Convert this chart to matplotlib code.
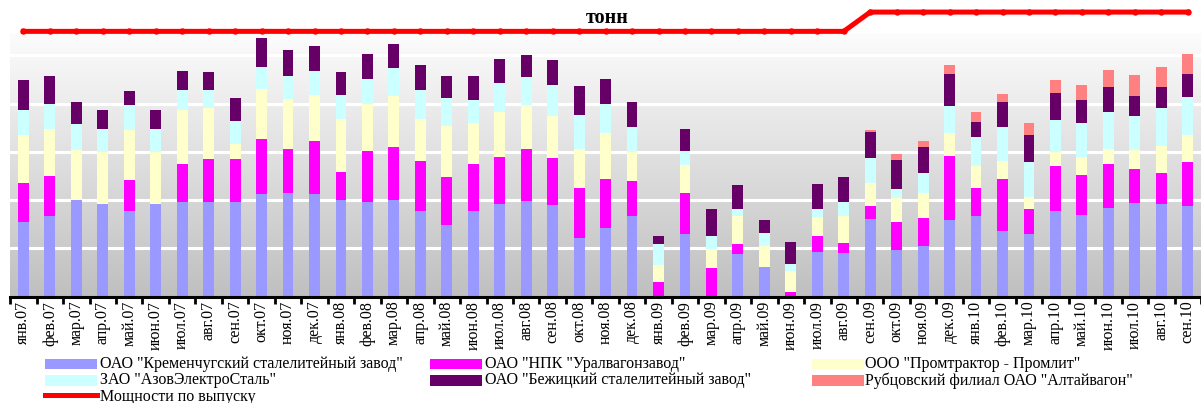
import numpy as np
import matplotlib
matplotlib.use("Agg")
import matplotlib.pyplot as plt
from matplotlib.patches import Rectangle
from matplotlib.lines import Line2D

months = ["янв.07", "фев.07", "мар.07", "апр.07", "май.07", "июн.07", "июл.07", "авг.07", "сен.07",
          "окт.07", "ноя.07", "дек.07", "янв.08", "фев.08", "мар.08", "апр.08", "май.08", "июн.08",
          "июл.08", "авг.08", "сен.08", "окт.08", "ноя.08", "дек.08", "янв.09", "фев.09", "мар.09",
          "апр.09", "май.09", "июн.09", "июл.09", "авг.09", "сен.09", "окт.09", "ноя.09", "дек.09",
          "янв.10", "фев.10", "мар.10", "апр.10", "май.10", "июн.10", "июл.10", "авг.10", "сен.10"]

kremenchug = [7.7, 8.3, 10.0, 9.55, 8.9, 9.55, 9.75, 9.75, 9.75, 10.6, 10.7, 10.6, 10.05, 9.75, 10.05,
              8.9, 7.4, 8.9, 9.55, 9.95, 9.45, 6.1, 7.15, 8.3, 0.0, 6.45, 0.0, 4.45, 3.1, 0.0,
              4.65, 4.55, 8.0, 4.8, 5.2, 7.9, 8.3, 6.75, 6.45, 8.9, 8.5, 9.15, 9.65, 9.55, 9.35]
npk_uvz = [4.05, 4.25, 0.0, 0.0, 3.2, 0.0, 3.95, 4.55, 4.55, 5.7, 4.65, 5.5, 2.9, 5.3, 5.5,
           5.2, 5.0, 4.8, 4.9, 5.3, 4.9, 5.2, 5.0, 3.65, 1.55, 4.25, 3.0, 0.95, 0.0, 0.5,
           1.65, 0.95, 1.35, 2.9, 2.9, 6.65, 3.0, 5.4, 2.6, 4.65, 4.15, 4.55, 3.55, 3.3, 4.65]
promtraktor = [5.0, 4.8, 5.2, 5.4, 5.2, 5.4, 5.6, 5.2, 1.55, 5.2, 5.1, 4.8, 5.5, 4.9, 5.2,
               4.35, 5.3, 4.25, 4.65, 4.65, 4.35, 4.05, 4.8, 3.0, 1.75, 2.9, 1.95, 2.9, 2.1, 2.1,
               1.95, 2.8, 2.4, 2.5, 2.6, 2.4, 2.2, 1.95, 1.25, 1.45, 1.85, 1.65, 1.95, 2.8, 2.8]
azov = [2.6, 2.6, 2.7, 2.4, 2.6, 2.4, 2.1, 1.95, 2.4, 2.3, 2.4, 2.5, 2.5, 2.6, 2.9,
        3.0, 2.9, 2.4, 3.0, 2.9, 3.2, 3.45, 3.0, 2.6, 2.1, 1.45, 1.35, 0.75, 1.35, 0.75,
        0.85, 1.45, 2.6, 0.95, 2.1, 2.8, 3.0, 3.45, 3.65, 3.3, 3.45, 3.75, 3.55, 3.95, 3.85]
bezhitsky = [3.1, 2.9, 2.3, 2.0, 1.45, 2.0, 1.95, 1.85, 2.3, 3.0, 2.7, 2.6, 2.3, 2.6, 2.5,
             2.6, 2.3, 2.5, 2.5, 2.3, 2.6, 3.0, 2.6, 2.6, 0.85, 2.3, 2.8, 2.5, 1.35, 2.3,
             2.6, 2.6, 2.7, 3.0, 2.7, 3.3, 1.65, 2.6, 2.8, 2.8, 2.4, 2.6, 2.1, 2.1, 2.4]
rubtsovsk = [0.0] * 32 + [0.2, 0.6, 0.6, 0.95, 0.95, 0.85, 1.25, 1.35, 1.55, 1.75, 2.2, 2.1, 2.1]
capacity = [27.5] * 32 + [29.5] * 13

series = [
    ('ОАО "Кременчугский сталелитейный завод"', kremenchug, "#9999FF"),
    ('ОАО "НПК "Уралвагонзавод"', npk_uvz, "#FF00FF"),
    ('ООО "Промтрактор - Промлит"', promtraktor, "#FFFFCC"),
    ('ЗАО "АзовЭлектроСталь"', azov, "#CCFFFF"),
    ('ОАО "Бежицкий сталелитейный завод"', bezhitsky, "#660066"),
    ('Рубцовский филиал ОАО "Алтайвагон"', rubtsovsk, "#FF8080"),
]
line_label = "Мощности по выпуску"

W, H = 1201, 403
fig = plt.figure(figsize=(W / 100, H / 100), dpi=100)
fig.patch.set_facecolor("white")

ax = fig.add_axes([10 / W, (H - 296.5) / H, 1191 / W, (296.5 - 33) / H])
x = np.arange(len(months))
ax.set_xlim(-0.507, 44.18)
ax.set_ylim(0, 27.33)

# background gradient
grad = np.linspace(0.99, 0.752, 256).reshape(-1, 1)
ax.imshow(np.dstack([grad, grad, grad]), extent=(0, 1, 0, 1), transform=ax.transAxes,
          aspect="auto", zorder=0.1, interpolation="bilinear")

ax.set_yticks([5, 10, 15, 20, 25])
ax.yaxis.grid(True, color="white", lw=2.2, zorder=0.5)
ax.set_axisbelow(True)
ax.tick_params(axis="y", left=False, labelleft=False)

bottom = np.zeros(len(months))
for name, vals, col in series:
    v = np.array(vals)
    ax.bar(x, v, width=0.41, bottom=bottom, color=col, edgecolor="none", zorder=2)
    bottom += v

ax.plot(x, capacity, color="#FF0000", lw=3.6, marker="o", ms=3.6, mec="#FF0000",
        mfc="#FF0000", clip_on=False, zorder=5, solid_joinstyle="miter")

for s in ["top", "left", "right"]:
    ax.spines[s].set_visible(False)
ax.spines["bottom"].set_linewidth(2.2)
ax.spines["bottom"].set_color("black")

ax.set_xticks(x)
ax.set_xticklabels(months, rotation=90, fontsize=11.5, family="Liberation Serif", va="top")
ax.tick_params(axis="x", which="major", length=0, pad=3)
ax.set_xticks(np.arange(-0.5, 44.6, 1.0), minor=True)
ax.tick_params(axis="x", which="minor", length=5, width=2, color="black", direction="out")

fig.text(607 / W, 1 - 18 / H, "тонн", ha="center", va="center", fontsize=14.5,
         fontweight="bold", family="Liberation Serif")

# legend (manual layout)
cols_x = [(45, 100), (430, 485), (812, 865)]
rows_y = [364, 380.5, 397]
items = [(s[0], s[2]) for s in series]
for i, (name, col) in enumerate(items):
    r, c = divmod(i, 3)
    px, tx = cols_x[c]
    y = rows_y[r]
    fig.add_artist(Rectangle((px / W, 1 - (y + 5) / H), 52 / W, 10.5 / H,
                             transform=fig.transFigure, facecolor=col, edgecolor="none"))
    fig.text(tx / W, 1 - y / H, name, ha="left", va="center", fontsize=11.5,
             family="Liberation Serif")
y = rows_y[2]
fig.add_artist(Line2D([45 / W, 97 / W], [1 - (y - 2.5) / H] * 2, transform=fig.transFigure,
                      color="#FF0000", lw=3.6))
fig.text(100 / W, 1 - y / H, line_label, ha="left", va="center", fontsize=11.5,
         family="Liberation Serif")

fig.savefig("out.png", dpi=100, facecolor="white")
